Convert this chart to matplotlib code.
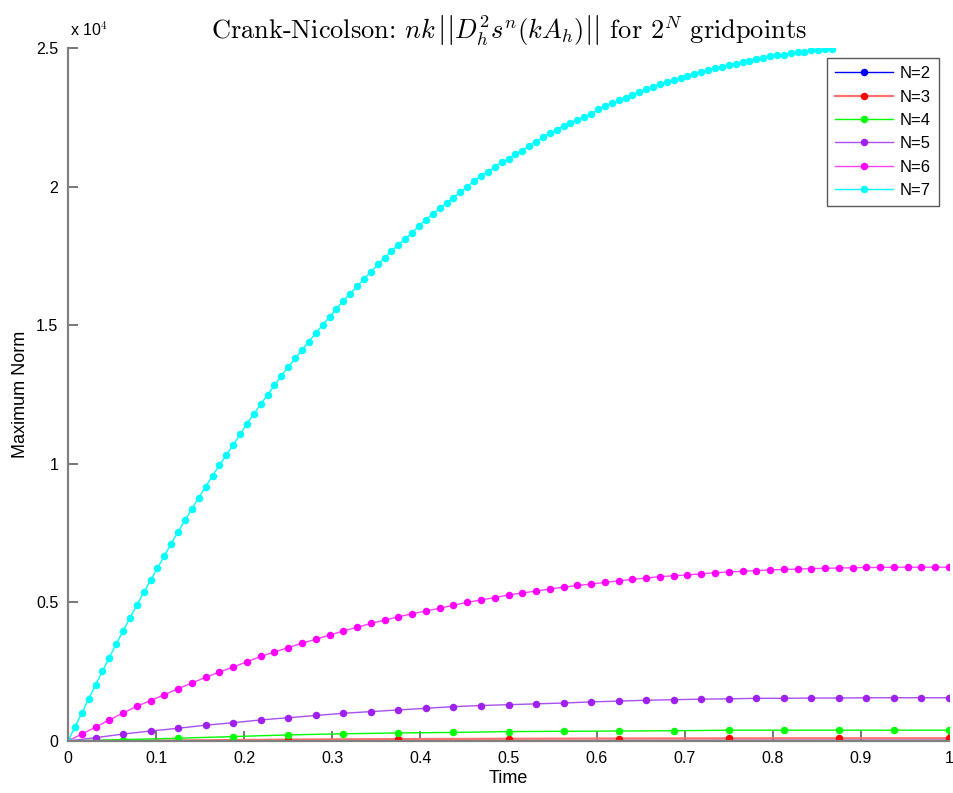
import numpy as np
import matplotlib
matplotlib.use("Agg")
import matplotlib.pyplot as plt

plt.rcParams['font.family'] = ['Liberation Sans', 'DejaVu Sans']
plt.rcParams['mathtext.fontset'] = 'cm'

# ---- data (values in thousands) ----
labels = ["N=2", "N=3", "N=4", "N=5", "N=6", "N=7"]
grid_N = [2, 3, 4, 5, 6, 7]

n2 = [0, 0.006, 0.013, 0.020, 0.024]
n3 = [0, 0.02, 0.05, 0.07, 0.08, 0.09, 0.095, 0.097, 0.098]
n4 = [0, 0.05, 0.10, 0.16, 0.22, 0.26, 0.29, 0.31, 0.34, 0.35, 0.36, 0.37,
      0.39, 0.39, 0.39, 0.39, 0.39]
n5 = [0, 0.12, 0.25, 0.36, 0.46, 0.57, 0.66, 0.76, 0.84, 0.92, 1.00, 1.06,
      1.12, 1.18, 1.24, 1.28, 1.31, 1.34, 1.37, 1.41, 1.44, 1.47, 1.49, 1.51,
      1.52, 1.54, 1.54, 1.55, 1.55, 1.56, 1.56, 1.56, 1.56]
n6 = [0, 0.25, 0.50, 0.76, 1.01, 1.25, 1.46, 1.67, 1.89, 2.09, 2.30, 2.49,
      2.67, 2.86, 3.05, 3.21, 3.37, 3.53, 3.67, 3.82, 3.97, 4.10, 4.24, 4.36,
      4.48, 4.59, 4.69, 4.79, 4.90, 5.00, 5.09, 5.17, 5.27, 5.34, 5.41, 5.48,
      5.55, 5.61, 5.66, 5.72, 5.78, 5.83, 5.88, 5.93, 5.96, 5.99, 6.03, 6.07,
      6.10, 6.12, 6.15, 6.17, 6.19, 6.20, 6.22, 6.23, 6.24, 6.25, 6.26, 6.26,
      6.27, 6.27, 6.27, 6.27, 6.27]
n7 = [0, 0.50, 1.00, 1.52, 2.02, 2.52, 3.01, 3.49, 3.97, 4.44, 4.90, 5.36,
      5.80, 6.24, 6.68, 7.12, 7.55, 7.96, 8.37, 8.78, 9.18, 9.57, 9.95, 10.31,
      10.68, 11.06, 11.45, 11.80, 12.15, 12.49, 12.83, 13.18, 13.49, 13.80,
      14.11, 14.41, 14.71, 15.01, 15.30, 15.59, 15.88, 16.14, 16.40, 16.67,
      16.92, 17.19, 17.43, 17.68, 17.90, 18.12, 18.33, 18.58, 18.81, 19.02,
      19.21, 19.41, 19.60, 19.80, 20.00, 20.20, 20.39, 20.53, 20.70, 20.88,
      21.00, 21.18, 21.30, 21.48, 21.61, 21.79, 21.92, 22.04, 22.18, 22.29,
      22.40, 22.51, 22.62, 22.79, 22.90, 23.00, 23.11, 23.21, 23.31, 23.41,
      23.51, 23.60, 23.70, 23.78, 23.83, 23.91, 24.00, 24.08, 24.13, 24.21,
      24.28, 24.33, 24.40, 24.44, 24.50, 24.54, 24.60, 24.64, 24.70, 24.73,
      24.76, 24.81, 24.84, 24.87, 24.91, 24.93, 24.95, 24.97]
series = [n2, n3, n4, n5, n6, n7]

marker_colors = ["#0000ff", "#ff0000", "#00ff00", "#a020f0", "#ff00ff", "#00ffff"]
line_colors = ["#0000ff", "#ff7070", "#00ff00", "#a850f0", "#ff40ff", "#00ffff"]
line_widths = [1.0, 1.6, 1.0, 1.0, 1.0, 1.0]

yticks = [0, 5000, 10000, 15000, 20000, 25000]
ytick_labels = ["0", "0.5", "1", "1.5", "2", "2.5"]
xticks = [0, 0.1, 0.2, 0.3, 0.4, 0.5, 0.6, 0.7, 0.8, 0.9, 1.0]
xtick_labels = ["0", "0.1", "0.2", "0.3", "0.4", "0.5", "0.6", "0.7", "0.8", "0.9", "1"]

fig = plt.figure(figsize=(9.54, 7.93), dpi=100)
ax = fig.add_axes([68/954, 1-741/793, (949-68)/954, (741-48)/793])

for N, vals, lab, mc, lc, lw in zip(grid_N, series, labels, marker_colors, line_colors, line_widths):
    y = np.array(vals) * 1000.0
    t = np.arange(len(y)) / 2.0**N
    ax.plot(t, y, '-', color=lc, lw=lw, marker='o', markersize=5.4,
            markerfacecolor=mc, markeredgecolor=mc, markeredgewidth=0,
            label=lab, clip_on=True)

ax.set_xlim(0, 1)
ax.set_ylim(0, 25000)
ax.set_xticks(xticks)
ax.set_xticklabels(xtick_labels)
ax.set_yticks(yticks)
ax.set_yticklabels(ytick_labels)

for s in ['top', 'right']:
    ax.spines[s].set_visible(False)
for s in ['left', 'bottom']:
    ax.spines[s].set_color('#808080')
    ax.spines[s].set_linewidth(1.6)

ax.tick_params(direction='in', length=7, width=1.2, colors='#606060',
               labelcolor='black', labelsize=11.5, pad=7)

ax.text(0.002, 1.014, r"x 10$^{4}$", transform=ax.transAxes, fontsize=11.5,
        ha='left', va='bottom')

ax.set_xlabel("Time", fontsize=13, labelpad=3)
ax.set_ylabel("Maximum Norm", fontsize=13, labelpad=5)

ax.set_title(r"$\text{Crank-Nicolson: } nk\,\left|\left|D_h^2 s^n(kA_h)\right|\right|\text{ for } 2^N\text{ gridpoints}$",
             fontsize=19, pad=5)

leg = ax.legend(loc='upper right', bbox_to_anchor=(0.989, 0.9856),
                fontsize=12, frameon=True, fancybox=False, handlelength=3.5,
                handletextpad=0.4, labelspacing=0.5, borderpad=0.5,
                borderaxespad=0)
leg.get_frame().set_edgecolor('#303030')
leg.get_frame().set_linewidth(1.0)

fig.savefig("out.png", dpi=100, facecolor='white')
